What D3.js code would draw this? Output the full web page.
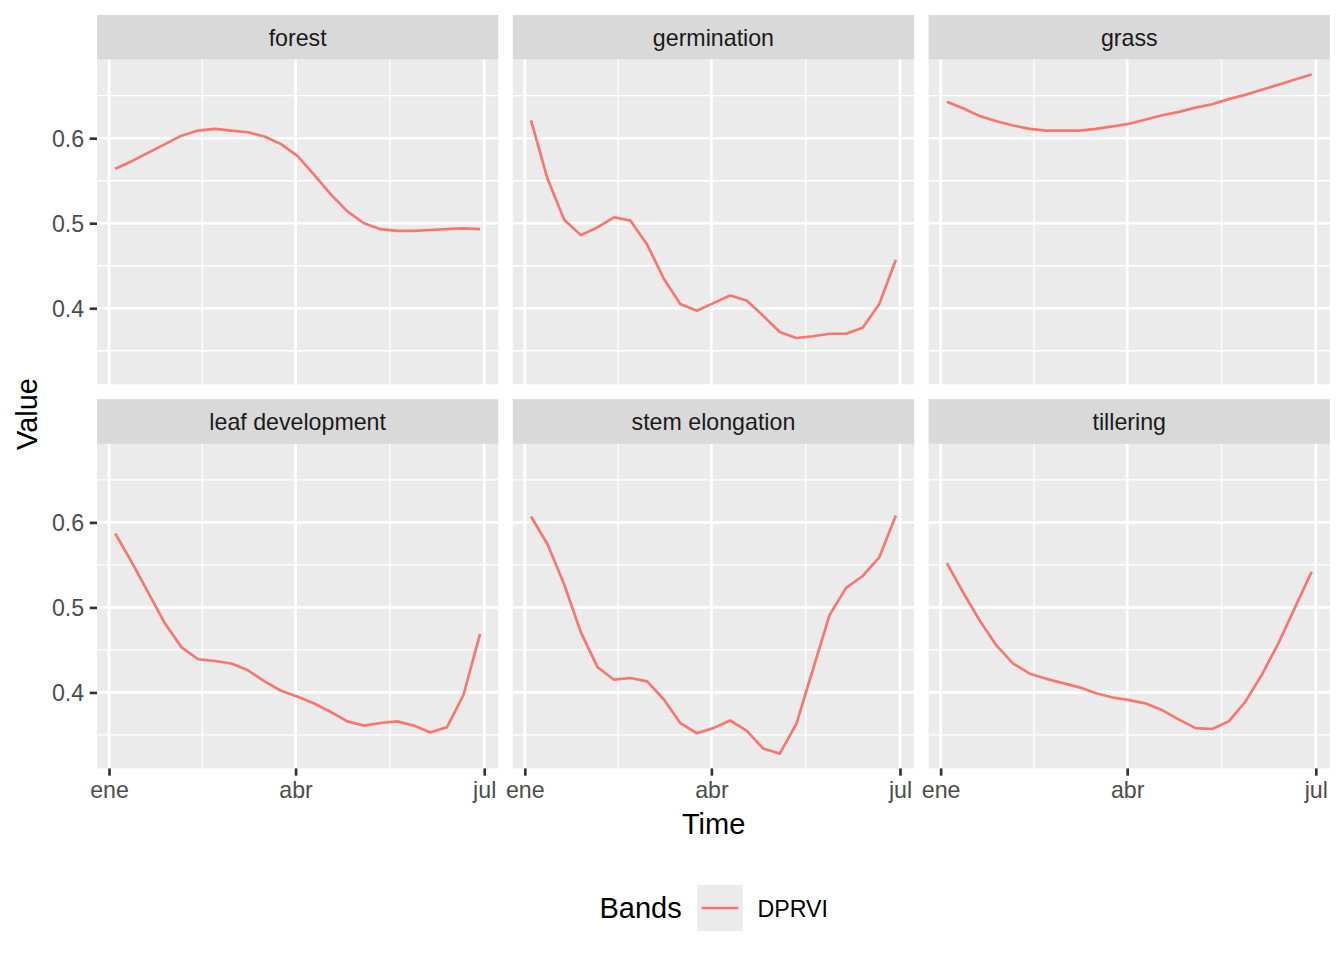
<!DOCTYPE html>
<html>
<head>
<meta charset="utf-8">
<script src="https://cdn.jsdelivr.net/npm/d3@7"></script>
<style>
  html, body { margin: 0; padding: 0; background: #ffffff; }
  svg { display: block; font-family: "Liberation Sans", Arial, Helvetica, sans-serif; }
</style>
</head>
<body>
<svg id="chart" width="1344" height="960"></svg>
<script>
// ---------- data ----------
const dates = ["2019-01-04","2019-01-12","2019-01-20","2019-01-28","2019-02-05","2019-02-13",
  "2019-02-21","2019-03-01","2019-03-09","2019-03-17","2019-03-25","2019-04-02","2019-04-10",
  "2019-04-18","2019-04-26","2019-05-04","2019-05-12","2019-05-20","2019-05-28","2019-06-05",
  "2019-06-13","2019-06-21","2019-06-29"];
const panelNames = ["forest", "germination", "grass", "leaf development", "stem elongation", "tillering"];
const forest = [0.564,0.573,0.583,0.593,0.603,0.609,0.611,0.609,0.607,0.602,0.593,0.579,0.557,0.534,0.514,0.500,0.493,0.491,0.491,0.492,0.493,0.494,0.493];
const germination = [0.621,0.552,0.504,0.486,0.495,0.507,0.503,0.475,0.435,0.405,0.397,0.406,0.415,0.409,0.391,0.372,0.365,0.367,0.370,0.370,0.377,0.405,0.457];
const grass = [0.643,0.635,0.626,0.620,0.615,0.611,0.609,0.609,0.609,0.611,0.614,0.617,0.622,0.627,0.631,0.636,0.640,0.646,0.651,0.657,0.663,0.669,0.675];
const leafDevelopment = [0.587,0.553,0.517,0.481,0.453,0.439,0.437,0.434,0.426,0.413,0.402,0.395,0.387,0.377,0.366,0.361,0.364,0.366,0.361,0.353,0.359,0.397,0.469];
const stemElongation = [0.607,0.574,0.527,0.471,0.430,0.415,0.417,0.413,0.392,0.364,0.352,0.358,0.367,0.355,0.334,0.328,0.363,0.427,0.491,0.523,0.537,0.559,0.608];
const tillering = [0.552,0.517,0.484,0.455,0.434,0.422,0.416,0.411,0.406,0.399,0.394,0.391,0.387,0.379,0.368,0.358,0.357,0.366,0.389,0.421,0.458,0.500,0.542];
const seriesValues = [forest, germination, grass, leafDevelopment, stemElongation, tillering];
const yTicks = [0.4, 0.5, 0.6];
const yMinor = [0.35, 0.45, 0.55, 0.65];
const xTickDates = ["2019-01-01", "2019-04-01", "2019-07-01"];
const xTickLabels = ["ene", "abr", "jul"];
const bandName = "DPRVI";
const legendTitle = "Bands";
const xTitle = "Time";
const yTitle = "Value";

// ---------- layout ----------
const W = 1344, H = 960;
const colX = [97, 512.8, 928.6];
const panelW = 401.3;
const stripTop = [15, 399.2];
const stripH = 44.7;
const panelH = 324.5;
const lineColor = "#F8766D";
const majorW = 2.67, minorW = 1.33;
const smallFont = 23.2, bigFont = 29;

const parse = d3.utcParse("%Y-%m-%d");
const dateObjs = dates.map(parse);

const svg = d3.select("#chart");
svg.append("rect").attr("width", W).attr("height", H).attr("fill", "#ffffff");

// scales (shared across facets), with ggplot's 5% expansion
const xExt = d3.extent(dateObjs);
const xSpan = xExt[1] - xExt[0];
const xDomain = [new Date(+xExt[0] - 0.05 * xSpan), new Date(+xExt[1] + 0.05 * xSpan)];
const allVals = seriesValues.flat();
const yExt = d3.extent(allVals);
const ySpan = yExt[1] - yExt[0];
const yDomain = [yExt[0] - 0.05 * ySpan, yExt[1] + 0.05 * ySpan];

const xTicks = xTickDates.map(parse);
const xMinor = [];
for (let i = 0; i < xTicks.length - 1; i++) {
  xMinor.push(new Date((+xTicks[i] + +xTicks[i + 1]) / 2));
}

panelNames.forEach((name, idx) => {
  const col = idx % 3, row = Math.floor(idx / 3);
  const x0 = colX[col];
  const sTop = stripTop[row];
  const pTop = sTop + stripH;
  const x = d3.scaleUtc().domain(xDomain).range([x0, x0 + panelW]);
  const y = d3.scaleLinear().domain(yDomain).range([pTop + panelH, pTop]);

  const g = svg.append("g");
  // strip
  g.append("rect").attr("x", x0).attr("y", sTop).attr("width", panelW).attr("height", stripH).attr("fill", "#D9D9D9");
  g.append("text").attr("x", x0 + panelW / 2).attr("y", sTop + stripH / 2 + 8.4)
    .attr("text-anchor", "middle").attr("font-size", smallFont).attr("fill", "#1A1A1A").text(name);
  // panel bg
  g.append("rect").attr("x", x0).attr("y", pTop).attr("width", panelW).attr("height", panelH).attr("fill", "#EBEBEB");
  // minor grid
  g.selectAll(".ymin").data(yMinor.filter(v => v >= yDomain[0] && v <= yDomain[1])).enter().append("line")
    .attr("x1", x0).attr("x2", x0 + panelW).attr("y1", d => y(d)).attr("y2", d => y(d))
    .attr("stroke", "#ffffff").attr("stroke-width", minorW);
  g.selectAll(".xmin").data(xMinor).enter().append("line")
    .attr("y1", pTop).attr("y2", pTop + panelH).attr("x1", d => x(d)).attr("x2", d => x(d))
    .attr("stroke", "#ffffff").attr("stroke-width", minorW);
  // major grid
  g.selectAll(".ymaj").data(yTicks).enter().append("line")
    .attr("x1", x0).attr("x2", x0 + panelW).attr("y1", d => y(d)).attr("y2", d => y(d))
    .attr("stroke", "#ffffff").attr("stroke-width", majorW);
  g.selectAll(".xmaj").data(xTicks).enter().append("line")
    .attr("y1", pTop).attr("y2", pTop + panelH).attr("x1", d => x(d)).attr("x2", d => x(d))
    .attr("stroke", "#ffffff").attr("stroke-width", majorW);

  // line
  const pts = dateObjs.map((d, i) => [d, seriesValues[idx][i]]);
  const line = d3.line().x(d => x(d[0])).y(d => y(d[1]));
  g.append("path").attr("d", line(pts)).attr("fill", "none").attr("stroke", lineColor)
    .attr("stroke-width", majorW).attr("stroke-linejoin", "round");

  // y axis on first column
  if (col === 0) {
    const ya = svg.append("g").attr("transform", `translate(${x0},0)`)
      .call(d3.axisLeft(y).tickValues(yTicks).tickSize(7.3).tickPadding(5.5).tickFormat(d3.format(".1f")));
    ya.select(".domain").remove();
    ya.selectAll(".tick line").attr("stroke", "#333333").attr("stroke-width", majorW);
    ya.selectAll(".tick text").attr("font-size", smallFont).attr("fill", "#4D4D4D")
      .attr("font-family", "Liberation Sans, Arial, sans-serif").attr("dy", "0.36em");
  }
  // x axis on bottom row
  if (row === 1) {
    const xa = svg.append("g").attr("transform", `translate(0,${pTop + panelH})`)
      .call(d3.axisBottom(x).tickValues(xTicks).tickSize(7.3).tickPadding(5.5)
        .tickFormat((d, i) => xTickLabels[i]));
    xa.select(".domain").remove();
    xa.selectAll(".tick line").attr("stroke", "#333333").attr("stroke-width", majorW);
    xa.selectAll(".tick text").attr("font-size", smallFont).attr("fill", "#4D4D4D")
      .attr("font-family", "Liberation Sans, Arial, sans-serif").attr("dy", "0.74em");
  }
});

// axis titles
svg.append("text").attr("x", 713.6).attr("y", 834).attr("text-anchor", "middle")
  .attr("font-size", bigFont).attr("fill", "#000000").text(xTitle);
svg.append("text").attr("transform", "translate(37,414) rotate(-90)").attr("text-anchor", "middle")
  .attr("font-size", bigFont).attr("fill", "#000000").text(yTitle);

// legend
const lg = svg.append("g");
lg.append("text").attr("x", 599.5).attr("y", 918).attr("font-size", bigFont).attr("fill", "#000000").text(legendTitle);
lg.append("rect").attr("x", 697).attr("y", 885).attr("width", 46).attr("height", 46).attr("fill", "#EBEBEB");
lg.append("line").attr("x1", 701.6).attr("x2", 738.4).attr("y1", 908).attr("y2", 908)
  .attr("stroke", lineColor).attr("stroke-width", majorW);
lg.append("text").attr("x", 757.5).attr("y", 917).attr("font-size", smallFont).attr("fill", "#000000").text(bandName);
</script>
</body>
</html>
